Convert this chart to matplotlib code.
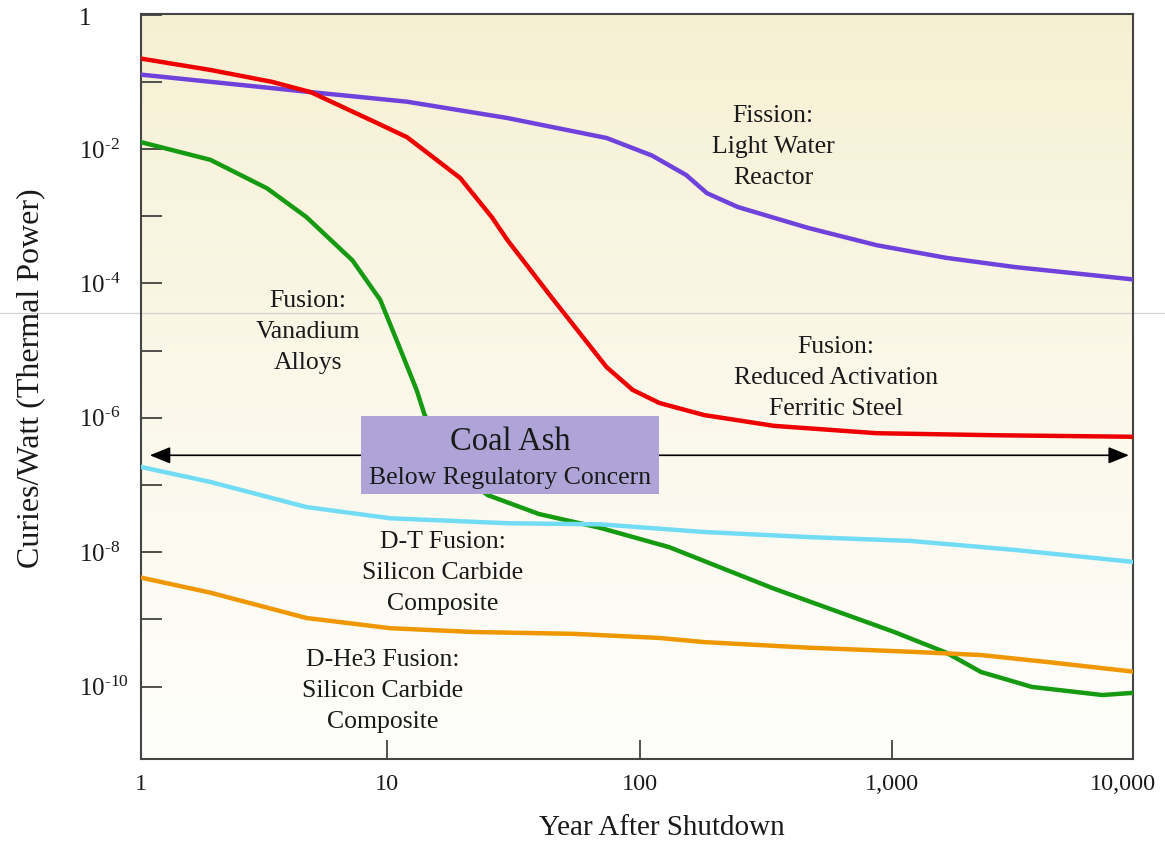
import matplotlib
matplotlib.use("Agg")
import numpy as np
import matplotlib.pyplot as plt
from matplotlib.patches import Rectangle
from matplotlib.lines import Line2D
from matplotlib.colors import LinearSegmentedColormap
from matplotlib.ticker import NullLocator

plt.rcParams['font.family'] = ['Liberation Serif', 'DejaVu Serif']
plt.rcParams['mathtext.fontset'] = 'custom'
plt.rcParams['mathtext.rm'] = 'Liberation Serif'
plt.rcParams['mathtext.it'] = 'Liberation Serif:italic'
plt.rcParams['mathtext.bf'] = 'Liberation Serif:bold'

# ---- data: specific activity (Ci per W thermal) vs. years after shutdown ----
lwr_years = [1, 2, 4.8, 12, 30, 74, 112, 153, 185, 245, 465, 870, 1640, 3070, 10000]
lwr_ci = [0.131, 0.100, 0.0713, 0.0506, 0.0289, 0.0146, 8.0e-3, 4.1e-3, 2.2e-3,
          1.37e-3, 6.7e-4, 3.7e-4, 2.4e-4, 1.75e-4, 1.1e-4]

rafs_years = [1, 2, 3.5, 5, 9, 12, 19.5, 26, 30, 45, 74, 94, 120, 180, 340, 870,
              2600, 10000]
rafs_ci = [0.23, 0.15, 0.10, 0.07, 0.025, 0.015, 3.7e-3, 9.7e-4, 4.4e-4, 6.1e-5,
           5.7e-6, 2.6e-6, 1.66e-6, 1.1e-6, 7.6e-7, 5.9e-7, 5.5e-7, 5.2e-7]

vanadium_years = [1, 2, 3.35, 4.8, 7.3, 9.4, 11.2, 13.1, 14.1, 18, 21, 25, 40, 70,
                  131, 338, 1020, 1640, 2250, 3580, 6800, 10000]
vanadium_ci = [0.0134, 6.9e-3, 2.6e-3, 9.7e-4, 2.2e-4, 5.7e-5, 1.13e-5, 2.6e-6,
               1.1e-6, 2.5e-7, 1.2e-7, 7.1e-8, 3.7e-8, 2.3e-8, 1.19e-8, 2.9e-9,
               6.5e-10, 3.2e-10, 1.65e-10, 9.9e-11, 7.5e-11, 8.3e-11]

dt_sic_years = [1, 2, 4.8, 10.3, 30, 70, 180, 465, 1190, 3070, 10000]
dt_sic_ci = [1.95e-7, 1.11e-7, 4.7e-8, 3.2e-8, 2.7e-8, 2.6e-8, 2.0e-8, 1.68e-8,
             1.47e-8, 1.08e-8, 6.9e-9]

dhe3_sic_years = [1, 2, 4.8, 10.3, 22, 55, 120, 180, 465, 1190, 2250, 4230, 10000]
dhe3_sic_ci = [4.4e-9, 2.5e-9, 1.05e-9, 7.4e-10, 6.5e-10, 6.1e-10, 5.3e-10,
               4.6e-10, 3.8e-10, 3.3e-10, 2.95e-10, 2.3e-10, 1.6e-10]

# coal ash reference level and the span its arrow covers
coal_ash_level = 2.77e-7
coal_ash_span = [1.15, 8670]

x_tick_labels = ['1', '10', '100', '1,000', '10,000']
y_label_exponents = [0, 2, 4, 6, 8, 10]

W, H = 1165, 844
fig = plt.figure(figsize=(W / 100, H / 100), dpi=100)
rect = [141 / W, 1 - 759 / H, (1133 - 141) / W, (759 - 14) / H]

# background gradient: pale yellow at top fading to white
bg_ax = fig.add_axes(rect)
bg_ax.set_zorder(-2)
cmap = LinearSegmentedColormap.from_list('bg', ['#fefefb', '#fbf8ea', '#f6f0d3'])
grad = np.linspace(0, 1, 256).reshape(-1, 1)
bg_ax.imshow(grad, cmap=cmap, aspect='auto', origin='lower', extent=[0, 1, 0, 1])
bg_ax.axis('off')

# faint horizontal rule across the page
fig.add_artist(Line2D([0, 1], [1 - 313 / H] * 2, transform=fig.transFigure,
                      color='#d2d2d2', lw=0.9, zorder=-1))

ax = fig.add_axes(rect)
ax.patch.set_alpha(0)
ax.set_xscale('log')
ax.set_yscale('log')
xmin, xmax = 10 ** 0.026, 10 ** 3.954
ax.set_xlim(xmin, xmax)
ax.set_ylim(10 ** -11.077, 10 ** 0.009)

lw = 3.2
ax.plot(lwr_years, lwr_ci, color='#6f42dc', lw=lw, zorder=3, solid_capstyle='butt')
ax.plot(rafs_years, rafs_ci, color='#ee0000', lw=lw, zorder=3, solid_capstyle='butt')
ax.plot(vanadium_years, vanadium_ci, color='#159a12', lw=lw, zorder=3, solid_capstyle='butt')
ax.plot(dt_sic_years, dt_sic_ci, color='#72dcf4', lw=lw, zorder=3, solid_capstyle='butt')
ax.plot(dhe3_sic_years, dhe3_sic_ci, color='#ee9700', lw=lw, zorder=3, solid_capstyle='butt')

# coal ash double arrow
ax.annotate('', xy=(coal_ash_span[0], coal_ash_level),
            xytext=(coal_ash_span[1], coal_ash_level),
            arrowprops=dict(arrowstyle='<|-|>,head_length=0.42,head_width=0.17',
                            color='black', lw=1.2, mutation_scale=30,
                            shrinkA=0, shrinkB=0), zorder=4)

# coal ash label box
bx0, bx1 = 7.88, 119.4
by0, by1 = 7.3e-8, 1.06e-6
ax.add_patch(Rectangle((bx0, by0), bx1 - bx0, by1 - by0, facecolor='#aea4d7',
                       edgecolor='none', zorder=5))


def ftext(px, py, s, size, ha='center', **kw):
    fig.text(px / W, 1 - py / H, s, fontsize=size, color='#1a1a1a',
             ha=ha, va='center', **kw)


ftext(510, 442, 'Coal Ash', 23.5, zorder=6)
ftext(510, 478, 'Below Regulatory Concern', 18.5, zorder=6)

lab = dict(linespacing=1.52, multialignment='center')
ftext(773, 147, 'Fission:\nLight Water\nReactor', 18.5, **lab)
ftext(308, 332, 'Fusion:\nVanadium\nAlloys', 18.5, **lab)
ftext(836, 378, 'Fusion:\nReduced Activation\nFerritic Steel', 18.5, **lab)
ftext(443, 573, 'D-T Fusion:\nSilicon Carbide\nComposite', 18.5, **lab)
ftext(383, 691, 'D-He3 Fusion:\nSilicon Carbide\nComposite', 18.5, **lab)

# axes titles
ftext(31, 378, 'Curies/Watt (Thermal Power)', 23, rotation=90)
ftext(662, 828, 'Year After Shutdown', 21)

# ticks: the end labels sit just inside the frame corners
ax.set_xticks([xmin, 10, 100, 1000, xmax],
              labels=[''] + x_tick_labels[1:4] + [''])
ax.xaxis.set_minor_locator(NullLocator())
ax.tick_params(axis='x', direction='in', length=13.7, width=1.1, pad=10.5,
               labelsize=17.5, labelcolor='#1a1a1a', color='#222222')
ftext(141, 784, x_tick_labels[0], 17.5)
ftext(1123, 784, x_tick_labels[-1], 17.5)

y_ticks = [10.0 ** -k for k in range(0, 11)]
y_labels = []
for k in range(0, 11):
    if k in y_label_exponents and k != 0:
        y_labels.append(r'$10^{\text{-%d}}$' % k)
    else:
        y_labels.append('')
ax.set_yticks(y_ticks, labels=y_labels)
ax.yaxis.set_minor_locator(NullLocator())
ax.tick_params(axis='y', direction='in', length=15, width=1.1, pad=44.6,
               labelsize=18, labelcolor='#1a1a1a', color='#222222')
for t in ax.get_yticklabels():
    t.set_horizontalalignment('left')
ftext(79, 19, '1', 18, ha='left')

for s in ax.spines.values():
    s.set_color('#444444')
    s.set_linewidth(1.5)

fig.savefig('out.png', dpi=100)
